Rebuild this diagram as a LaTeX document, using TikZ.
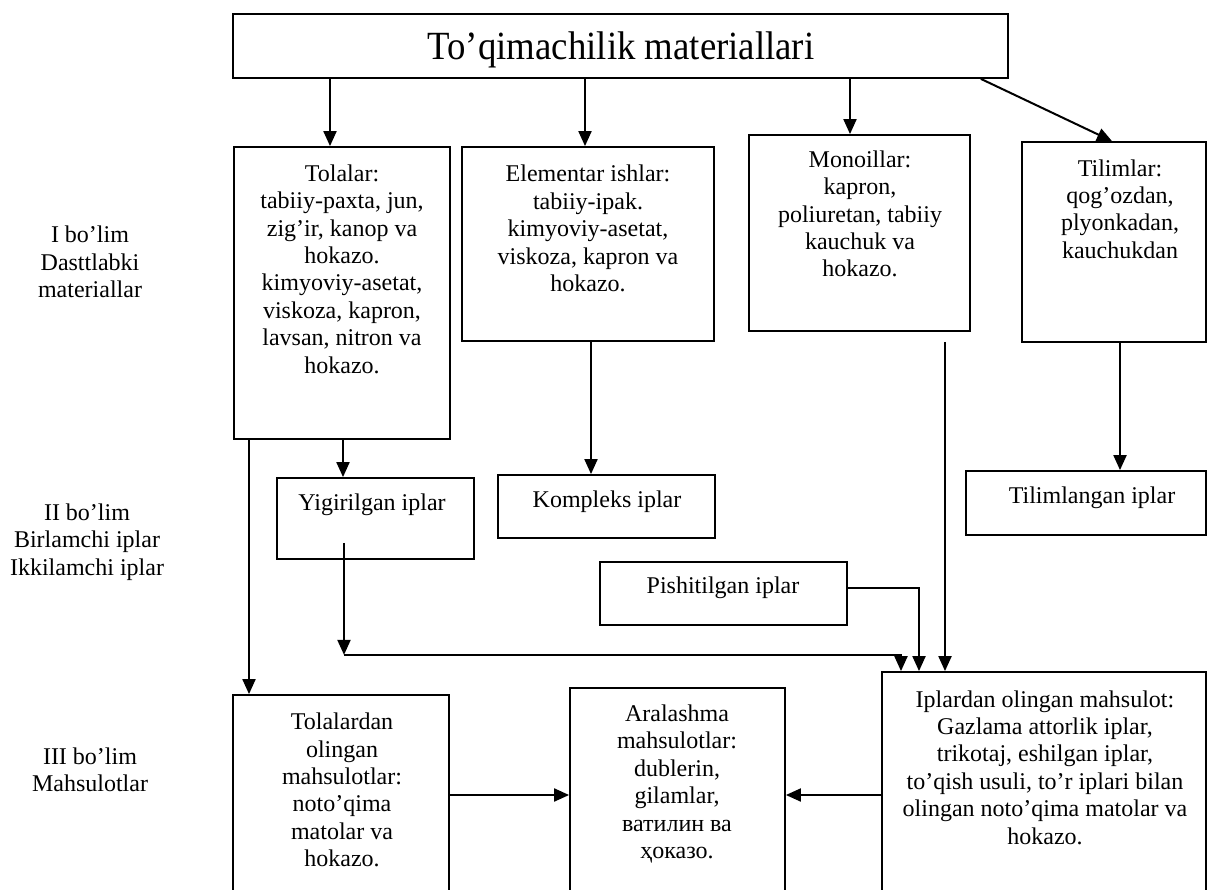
\documentclass[tikz,border=0pt]{standalone}
\usepackage{fontspec}
\setmainfont{Liberation Serif}
\newfontfamily\titlefont[FakeStretch=0.92]{Liberation Serif}
\usetikzlibrary{arrows.meta,calc}
\tikzset{
  box/.style={draw, line width=1.8pt, inner sep=0pt, minimum width=#1},
  txt/.style={align=center, inner sep=0pt, font=\fontsize{24}{27.4}\selectfont},
  arr/.style={line width=2pt, -{Triangle[length=15pt,width=13pt]}},
  ln/.style={line width=2pt}
}
\begin{document}
\begin{tikzpicture}[x=1pt,y=-1pt]
\useasboundingbox (0,0) rectangle (1209,890);
\clip (0,0) rectangle (1209,890);
\fill[white] (0,0) rectangle (1209,890);
% boxes
\node[box=775pt, minimum height=64pt] (top) at (620.5,46) {};
\node[box=216pt, minimum height=292pt] (tol) at (342,293) {};
\node[box=252pt, minimum height=194pt] (ele) at (588,244) {};
\node[box=221pt, minimum height=196pt] (mono) at (859.5,233) {};
\node[box=184pt, minimum height=200pt] (til) at (1114,242) {};
\node[box=197pt, minimum height=81pt] (yig) at (375.5,518.5) {};
\node[box=217pt, minimum height=63pt] (kom) at (606.5,506.5) {};
\node[box=240pt, minimum height=64pt] (tiln) at (1086,503) {};
\node[box=247pt, minimum height=63pt] (pis) at (723.5,593.5) {};
\node[box=216pt, minimum height=255pt] (tolm) at (341,822.5) {};
\node[box=215pt, minimum height=262pt] (ara) at (677.5,819) {};
\node[box=324pt, minimum height=278pt] (ipl) at (1044,811) {};
% texts
\node[txt, font=\titlefont\fontsize{40}{44}\selectfont] (tTop) at (621,50) {To’qimachilik materiallari};
\node[txt] (tTol) at (342,269) {Tolalar:\\tabiiy-paxta, jun,\\zig’ir, kanop va\\hokazo.\\kimyoviy-asetat,\\viskoza, kapron,\\lavsan, nitron va\\hokazo.};
\node[txt] (tEle) at (588,228.5) {Elementar ishlar:\\tabiiy-ipak.\\kimyoviy-asetat,\\viskoza, kapron va\\hokazo.};
\node[txt] (tMono) at (860,214) {Monoillar:\\kapron,\\poliuretan, tabiiy\\kauchuk va\\hokazo.};
\node[txt] (tTil) at (1120,209) {Tilimlar:\\qog’ozdan,\\plyonkadan,\\kauchukdan};
\node[txt] (tYig) at (372,505) {Yigirilgan iplar};
\node[txt] (tKom) at (607,502) {Kompleks iplar};
\node[txt] (tTiln) at (1092,498) {Tilimlangan iplar};
\node[txt] (tPis) at (723,588) {Pishitilgan iplar};
\node[txt] (tTolm) at (342,790) {Tolalardan\\olingan\\mahsulotlar:\\noto’qima\\matolar va\\hokazo.};
\node[txt] (tAra) at (677,784) {Aralashma\\mahsulotlar:\\dublerin,\\gilamlar,\\ватилин ва\\ҳоказо.};
\node[txt] (tIpl) at (1045,767.5) {Iplardan olingan mahsulot:\\Gazlama attorlik iplar,\\trikotaj, eshilgan iplar,\\to’qish usuli, to’r iplari bilan\\olingan noto’qima matolar va\\hokazo.};
\node[txt] (s1) at (90,262) {I bo’lim\\Dasttlabki\\materiallar};
\node[txt] (s2) at (87,542) {II bo’lim\\Birlamchi iplar\\Ikkilamchi iplar};
\node[txt] (s3) at (90,770) {III bo’lim\\Mahsulotlar};
% helper coordinates
\coordinate (a1) at ([xshift=-12pt]tol.north);
\coordinate (a2) at ([xshift=-3pt]ele.north);
\coordinate (a3) at ([xshift=-9.5pt]mono.north);
\coordinate (d0) at ([xshift=-28pt]top.south east);
\coordinate (d1) at ([xshift=-2pt]til.north);
\coordinate (b1) at ([xshift=-93pt]tol.south);
\coordinate (b2) at ([xshift=1pt]tol.south);
\coordinate (c1) at ([xshift=3pt]ele.south);
\coordinate (m1) at ([xshift=85.5pt,yshift=-10pt]mono.south);
\coordinate (t1) at ([xshift=6pt]til.south);
\coordinate (y1) at ([xshift=-31.5pt,yshift=17pt]yig.south);
\coordinate (y2) at ([xshift=-31.5pt,yshift=-95pt]yig.south);
\coordinate (i1) at ([xshift=-143pt]ipl.north);
\coordinate (i2) at ([xshift=-125pt]ipl.north);
\coordinate (p1) at ([yshift=5.5pt]pis.east);
\coordinate (h) at (0,795);
% connectors
\draw[arr] (a1 |- top.south) -- (a1);
\draw[arr] (a2 |- top.south) -- (a2);
\draw[arr] (a3 |- top.south) -- (a3);
\draw[arr] (d0) -- (d1);
\draw[arr] (b1) -- (b1 |- tolm.north);
\draw[arr] (b2) -- (b2 |- yig.north);
\draw[arr] (c1) -- (c1 |- kom.north);
\draw[arr] (m1) -- (m1 |- ipl.north);
\draw[arr] (t1) -- (t1 |- tiln.north);
\draw[arr] (y1) -- (y2);
\draw[arr] (y2) -- (y2 -| i1) -- (i1);
\draw[arr] (p1) -- (p1 -| i2) -- (i2);
\draw[arr] (tolm.east |- h) -- (ara.west |- h);
\draw[arr] (ipl.west |- h) -- (ara.east |- h);
\end{tikzpicture}
\end{document}
